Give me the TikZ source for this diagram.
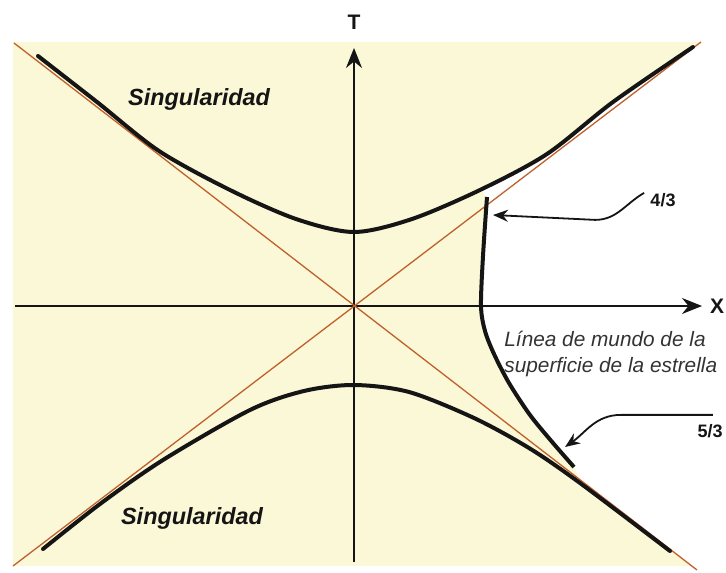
\documentclass[tikz,border=0pt]{standalone}
\usepackage{fontspec}
\setmainfont{Liberation Sans}
\usetikzlibrary{arrows.meta}
\definecolor{Ink}{HTML}{151515}
\definecolor{NoteGray}{HTML}{333333}
\definecolor{HorizonRust}{HTML}{C0602C}
\definecolor{RegionCream}{HTML}{FAF8D6}
\tikzset{
  ksRegion/.style={fill=RegionCream},
  ksAxis/.style={draw=Ink,line width=1pt,-{Stealth[length=10pt,width=8pt]}},
  ksHorizon/.style={draw=HorizonRust,line width=.65pt},
  ksSingular/.style={draw=Ink,line width=2pt,line cap=round},
  ksWorld/.style={draw=Ink,line width=2pt},
  ksPointer/.style={draw=Ink,line width=.9pt,-{Stealth[length=7.5pt,width=6pt]}},
  axisLabel/.style={font=\bfseries\fontsize{10.5}{12}\selectfont,text=Ink,inner sep=0pt},
  singLabel/.style={font=\bfseries\itshape\fontsize{11.7}{14}\selectfont,text=Ink,inner sep=0pt},
  rateLabel/.style={font=\bfseries\fontsize{9}{11}\selectfont,text=Ink,inner sep=0pt},
  noteLabel/.style={font=\itshape\fontsize{10.4}{13.5}\selectfont,text=NoteGray,align=left,inner sep=0pt}
}

\begin{document}
\begin{tikzpicture}[x=.5pt,y=.5pt]
  \useasboundingbox (-354,-266) rectangle (372,306);
  % cream region, cut away right of the star surface
  \fill[ksRegion] (-341,264) -- (347,264) -- (339,259)
    -- plot[smooth] coordinates {(339,259) (259,204) (193,152) (126,116)}
    -- (133,109)
    -- plot[smooth] coordinates {(133,109) (129,50) (127,0) (131,-25) (140,-48) (155,-77) (176,-109) (199,-137) (220,-161)}
    -- (226,-174) -- (338,-260) -- (-341,-260) -- cycle;
  \coordinate (xL) at (-339,0);
  \coordinate (xR) at (348,0);
  \coordinate (tB) at (0,-256);
  \coordinate (tT) at (0,258);
  \draw[ksAxis] (xL) -- (xR);
  \draw[ksAxis] (tB) -- (tT);
  \node[axisLabel] (tLab) at (0,284) {T};
  \node[axisLabel] (xLab) at (363,0) {X};
  % horizons
  \draw[ksHorizon] (-340,263) -- (343,-264);
  \draw[ksHorizon] (-341,-260) -- (347,264);
  % singularities and the star surface
  \draw[ksSingular] plot[smooth] coordinates {(-316,250) (-257,204) (-195,155) (-124,116) (-58,87) (0,74) (58,87) (126,116) (193,152) (259,204) (339,259)};
  \draw[ksSingular] plot[smooth] coordinates {(-311,-243) (-254,-198) (-191,-154) (-104,-104) (-50,-85) (0,-79) (55,-86) (120,-112) (175,-142) (226,-177) (316,-245)};
  \draw[ksWorld] plot[smooth] coordinates {(133,109) (129,50) (127,0) (131,-25) (140,-48) (155,-77) (176,-109) (199,-137) (220,-161)};
  \node[singLabel] (sTop) at (-155,207) {Singularidad};
  \node[singLabel] (sBot) at (-162,-212) {Singularidad};
  \node[noteLabel,anchor=west] (note) at (150,-48) {Línea de mundo de la\\superficie de la estrella};
  \node[rateLabel] (q43) at (309,106) {4/3};
  \node[rateLabel] (q53) at (356,-125) {5/3};
  \coordinate (c43) at (139,91);
  \coordinate (c53) at (211,-141);
  \draw[ksPointer] ([xshift=-3pt]q43.north west) to[out=210,in=0] ++(-49,-27) -- (c43);
  \draw[ksPointer] ([shift={(-5pt,4.5pt)}]q53.north east) -- ++(-92,0) to[out=180,in=35] (c53);
\end{tikzpicture}
\end{document}
